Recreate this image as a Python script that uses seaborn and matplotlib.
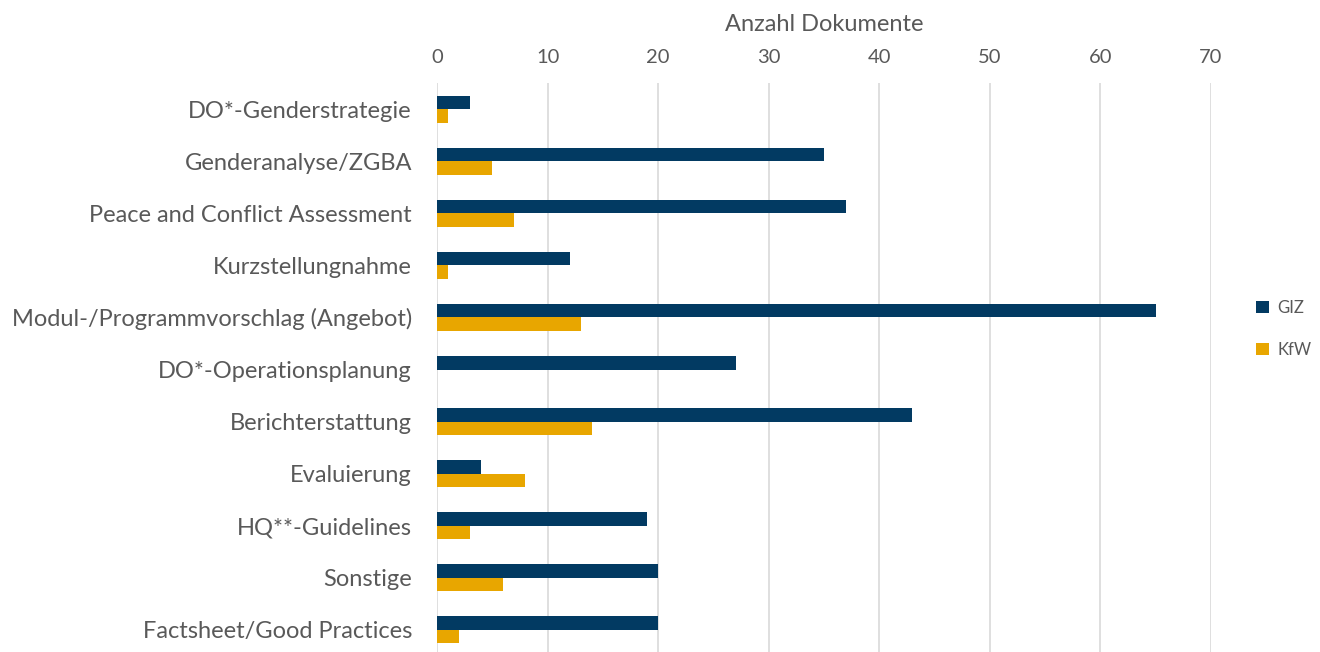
import matplotlib
matplotlib.use("Agg")
import matplotlib.pyplot as plt
import seaborn as sns
import pandas as pd
from matplotlib.patches import Patch

categories = ["DO*-Genderstrategie", "Genderanalyse/ZGBA", "Peace and Conflict Assessment",
              "Kurzstellungnahme", "Modul-/Programmvorschlag (Angebot)", "DO*-Operationsplanung",
              "Berichterstattung", "Evaluierung", "HQ**-Guidelines", "Sonstige",
              "Factsheet/Good Practices"]
giz = [3, 35, 37, 12, 65, 27, 43, 4, 19, 20, 20]
kfw = [1, 5, 7, 1, 13, 0, 14, 8, 3, 6, 2]
series = ["GIZ", "KfW"]
xticks = [0, 10, 20, 30, 40, 50, 60, 70]
xlabel = "Anzahl Dokumente"

colors = {"GIZ": "#023A62", "KfW": "#E8A600"}
text_color = "#595959"
grid_color = "#D9D9D9"

df = pd.DataFrame({
    "Kategorie": categories * 2,
    "Wert": giz + kfw,
    "Serie": ["GIZ"] * len(categories) + ["KfW"] * len(categories),
})

sns.set_style("white")
plt.rcParams["font.family"] = ["Lato", "DejaVu Sans"]

fig = plt.figure(figsize=(13.2, 6.52), dpi=100)
ax = fig.add_axes([437 / 1320, -4 / 652, (1211 - 437) / 1320, (656 - 83) / 652])

sns.barplot(data=df, y="Kategorie", x="Wert", hue="Serie", order=categories,
            hue_order=series, palette=colors, orient="h", width=0.52, gap=0,
            dodge=True, ax=ax, legend=False, saturation=1, linewidth=0)

ax.set_xlim(0, 70)
ax.set_ylim(len(categories) - 0.5, -0.5)
ax.set_xticks(xticks)
ax.xaxis.tick_top()
ax.xaxis.set_label_position("top")
ax.set_xlabel(xlabel, fontsize=17, color=text_color, labelpad=13)
ax.set_ylabel("")
ax.tick_params(axis="x", length=0, labelsize=14.5, colors=text_color, pad=12)
ax.tick_params(axis="y", length=0, labelsize=17, colors=text_color, pad=18)
for s in ax.spines.values():
    s.set_visible(False)
ax.grid(axis="x", color=grid_color, linewidth=1.2)
ax.grid(axis="y", visible=False)
ax.set_axisbelow(True)

handles = [Patch(facecolor=colors[s], edgecolor="none", label=s) for s in series]
leg = fig.legend(handles=handles, loc="center left", bbox_to_anchor=(1256 / 1320, 1 - 329 / 652),
                 frameon=False, fontsize=12, handlelength=0.75, handleheight=0.75,
                 handletextpad=0.55, labelspacing=1.55, labelcolor=text_color,
                 borderpad=0, borderaxespad=0)

fig.savefig("out.png", dpi=100)
